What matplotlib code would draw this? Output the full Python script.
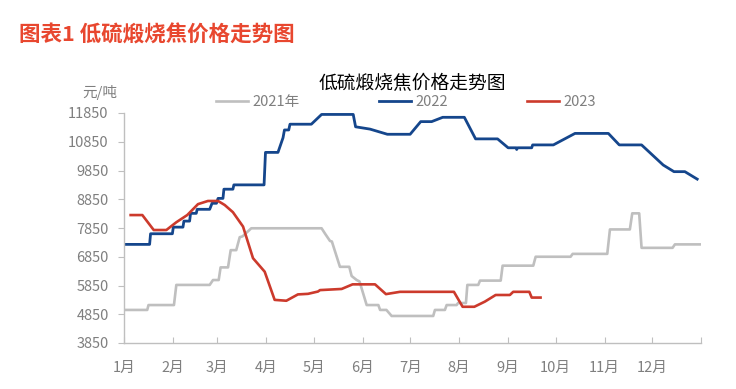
import matplotlib
matplotlib.use("Agg")
import matplotlib.pyplot as plt

plt.rcParams['font.family'] = ['Noto Sans CJK SC', 'DejaVu Sans']

# day-of-year positions and values (元/吨)
days_2021 = [0, 14.7, 15.5, 31.6, 33.1, 54.2, 56.3, 59.9, 61.1, 65.8, 67.5, 71, 73.2, 75, 80.5,
             125, 127.1, 130.3, 131.5, 136.6, 142.5, 144, 147.2, 149, 153.5, 160.9, 162, 166,
             169.3, 195.6, 196.7, 203, 204.1, 210.4, 211.3, 216.3, 217.2, 224.1, 225.2, 238.3,
             239.5, 258.9, 260.4, 282.5, 283.8, 305.7, 307.4, 320, 321.5, 325.9, 327.4, 347,
             348.5, 364.3]
vals_2021 = [5000, 5000, 5170, 5170, 5870, 5870, 6040, 6040, 6480, 6480, 7080, 7080, 7530, 7560, 7840,
             7840, 7660, 7400, 7380, 6500, 6500, 6180, 6040, 5990, 5170, 5170, 5000, 5000,
             4790, 4790, 5000, 5000, 5170, 5170, 5240, 5240, 5870, 5870, 6020, 6020,
             6540, 6540, 6850, 6850, 6950, 6950, 7800, 7800, 8360, 8360, 7160, 7160,
             7280, 7280]

days_2022 = [0, 16.2, 16.8, 30.6, 31.2, 37.3, 37.9, 41.5, 42.1, 45.7, 46.3, 54.2, 55.7, 58.5, 59.5,
             62.6, 63.2, 68.9, 69.5, 88.6, 89.5, 97.4, 100.6, 101.5, 104.2, 105, 109, 109.8, 118.5,
             125, 145, 146.5, 155.6, 166.6, 181, 187.7, 194.6, 201.6, 215.3, 222.4, 236.3, 243,
             248, 248.4, 249, 257.9, 258.5, 271.6, 285.3, 306.4, 313.3, 327.4, 341.1, 347.9, 354.8,
             362.6]
vals_2022 = [7280, 7280, 7650, 7650, 7880, 7880, 8090, 8090, 8360, 8360, 8500, 8500, 8710, 8710, 8880,
             8880, 9200, 9200, 9350, 9350, 10480, 10480, 10990, 11260, 11260, 11460, 11460, 11460, 11460,
             11800, 11800, 11370, 11290, 11110, 11110, 11550, 11550, 11700, 11700, 10950, 10950, 10640,
             10640, 10580, 10640, 10640, 10740, 10740, 11140, 11140, 10740, 10740, 10040, 9810, 9810,
             9550]

days_2023 = [4.2, 11.6, 18.8, 26.8, 33.1, 40, 46.8, 53.1, 59.5, 63.7, 68.9, 75.3, 81.6, 89, 95.3,
             102.7, 110, 116.4, 122.7, 124, 137.7, 144.6, 158.8, 165.7, 174.6, 208.7, 214.2,
             221.6, 228.3, 235.1, 244.1, 246.2, 256.4, 257.9, 263.5]
vals_2023 = [8300, 8300, 7780, 7780, 8050, 8300, 8680, 8790, 8790, 8650, 8400, 7900, 6800, 6330, 5350,
             5320, 5540, 5560, 5640, 5690, 5730, 5890, 5890, 5550, 5630, 5630, 5110,
             5110, 5290, 5520, 5520, 5630, 5630, 5430, 5430]

month_ticks = [0, 31, 59, 90, 120, 151, 181, 212, 243, 273, 304, 334, 365]
month_labels = ['1月', '2月', '3月', '4月', '5月', '6月', '7月', '8月', '9月', '10月', '11月', '12月', '']
y_ticks = [3850, 4850, 5850, 6850, 7850, 8850, 9850, 10850, 11850]

c_gray = '#BFBFBF'
c_blue = '#15468C'
c_red = '#CC3A2C'
c_txt = '#7F7F7F'

fig = plt.figure(figsize=(7.36, 3.89), dpi=100)
ax = fig.add_axes([124/736, 1-343/389, (701-124)/736, (343-113)/389])

l1, = ax.plot(days_2021, vals_2021, color=c_gray, lw=1.9, label='2021年')
l2, = ax.plot(days_2022, vals_2022, color=c_blue, lw=2.0, label='2022')
l3, = ax.plot(days_2023, vals_2023, color=c_red, lw=1.9, label='2023')

ax.set_xlim(0, 365)
ax.set_ylim(3850, 11850)
ax.set_xticks(month_ticks)
ax.set_xticklabels(month_labels)
ax.set_yticks(y_ticks)
for s in ['top', 'right']:
    ax.spines[s].set_visible(False)
for s in ['left', 'bottom']:
    ax.spines[s].set_color('#BFBFBF')
    ax.spines[s].set_linewidth(1.0)
ax.tick_params(axis='x', direction='in', length=4, color='#BFBFBF', pad=13,
               labelsize=10.5, labelcolor=c_txt)
ax.tick_params(axis='y', direction='out', length=4, color='#BFBFBF', pad=7,
               labelsize=10.5, labelcolor=c_txt)

fig.text(19/736, 1-35/389, '图表1 低硫煅烧焦价格走势图', color='#E8472F', fontsize=15.5,
         fontweight='bold', ha='left', va='center')
fig.text(412/736, 1-84/389, '低硫煅烧焦价格走势图', color='black', fontsize=13.5,
         ha='center', va='center')
fig.text(117/736, 1-92/389, '元/吨', color=c_txt, fontsize=10.5, ha='right', va='center')

fig.legend(handles=[l1, l2, l3], loc='center', bbox_to_anchor=(406/736, 1-102/389),
           ncol=3, frameon=False, fontsize=10.5, labelcolor=c_txt,
           handlelength=2.2, handletextpad=0.3, columnspacing=5.4, borderpad=0)

fig.savefig('out.png', dpi=100)
